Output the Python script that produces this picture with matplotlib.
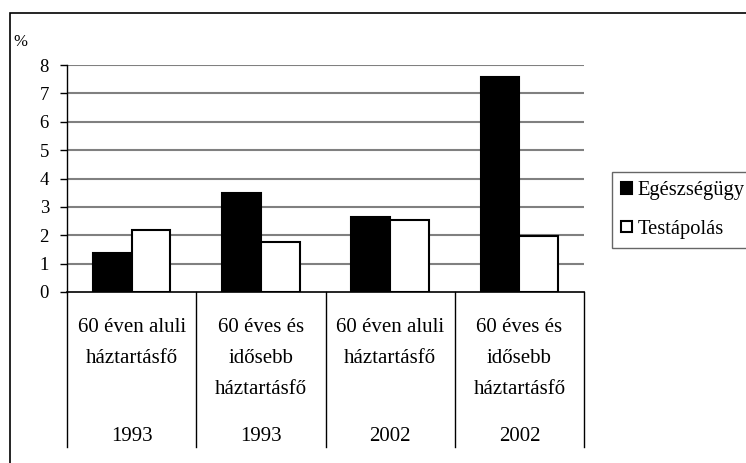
import matplotlib
matplotlib.use("Agg")
import matplotlib.pyplot as plt
from matplotlib.patches import Rectangle
from matplotlib.lines import Line2D

plt.rcParams['font.family'] = ['Liberation Serif', 'DejaVu Serif']

# Data
groups = ["60 éven aluli\nháztartásfő", "60 éves és\nidősebb\nháztartásfő",
          "60 éven aluli\nháztartásfő", "60 éves és\nidősebb\nháztartásfő"]
years = ["1993", "1993", "2002", "2002"]
series_names = ["Egészségügy", "Testápolás"]
health = [1.36, 3.48, 2.65, 7.58]
care = [2.2, 1.77, 2.55, 1.98]
y_ticks = [0, 1, 2, 3, 4, 5, 6, 7, 8]

W, H = 746, 463
fig = plt.figure(figsize=(W / 100, H / 100), dpi=100)

# plot area in pixel coordinates
left, right, top, bottom = 67, 584, 65, 292
ax = fig.add_axes([left / W, 1 - bottom / H, (right - left) / W, (bottom - top) / H])

x = list(range(len(groups)))
bw = 0.3
ax.bar([i - bw / 2 for i in x], health, width=bw, color='black', edgecolor='black',
       linewidth=1.5, label=series_names[0], zorder=3)
ax.bar([i + bw / 2 for i in x], care, width=bw, color='white', edgecolor='black',
       linewidth=1.5, label=series_names[1], zorder=3)

ax.set_xlim(-0.5, len(groups) - 0.5)
ax.set_ylim(0, 8)
ax.set_yticks(y_ticks)
ax.set_yticklabels([str(t) for t in y_ticks], fontsize=13.5)
ax.tick_params(axis='y', length=5, width=1, pad=8, direction='out')
ax.set_xticks([])
for t in y_ticks[1:]:
    ax.axhline(t, color='#808080', linewidth=1.5, zorder=1)
for s in ['top', 'right']:
    ax.spines[s].set_visible(False)
ax.spines['left'].set_linewidth(1)
ax.spines['bottom'].set_linewidth(1.2)
ax.spines['bottom'].set_zorder(4)

ah = bottom - top


def px_to_axes_y(py):
    return (bottom - py) / ah


# category separators running down through the label area
xt = ax.get_xaxis_transform()
for b in [i - 0.5 for i in range(len(groups) + 1)]:
    ax.add_line(Line2D([b, b], [0, px_to_axes_y(447)], transform=xt, color='black',
                       linewidth=1, clip_on=False))

# category labels and years
for i, (g, yr) in enumerate(zip(groups, years)):
    for k, line in enumerate(g.split("\n")):
        ax.text(i, px_to_axes_y(328 + 30.5 * k), line, transform=xt, ha='center',
                va='center', fontsize=15)
    ax.text(i, px_to_axes_y(436), yr, transform=xt, ha='center', va='center', fontsize=15)

# unit label
fig.text(13 / W, 1 - 42 / H, "%", fontsize=12, ha='left', va='center')

# legend
leg = fig.legend(loc='upper left', bbox_to_anchor=(612 / W, 1 - 172 / H), fontsize=14.8,
                 frameon=True, fancybox=False, edgecolor='#404040', handlelength=0.5,
                 handleheight=0.5, handletextpad=0.3, borderpad=0.45, labelspacing=0.95,
                 borderaxespad=0)
leg.get_frame().set_linewidth(1)

# outer frame
fig.patches.append(Rectangle((10 / W, -0.1), 1.2, 1 - 13 / H + 0.1, transform=fig.transFigure,
                             fill=False, edgecolor='black', linewidth=1.2))

fig.savefig("out.png", dpi=100)
